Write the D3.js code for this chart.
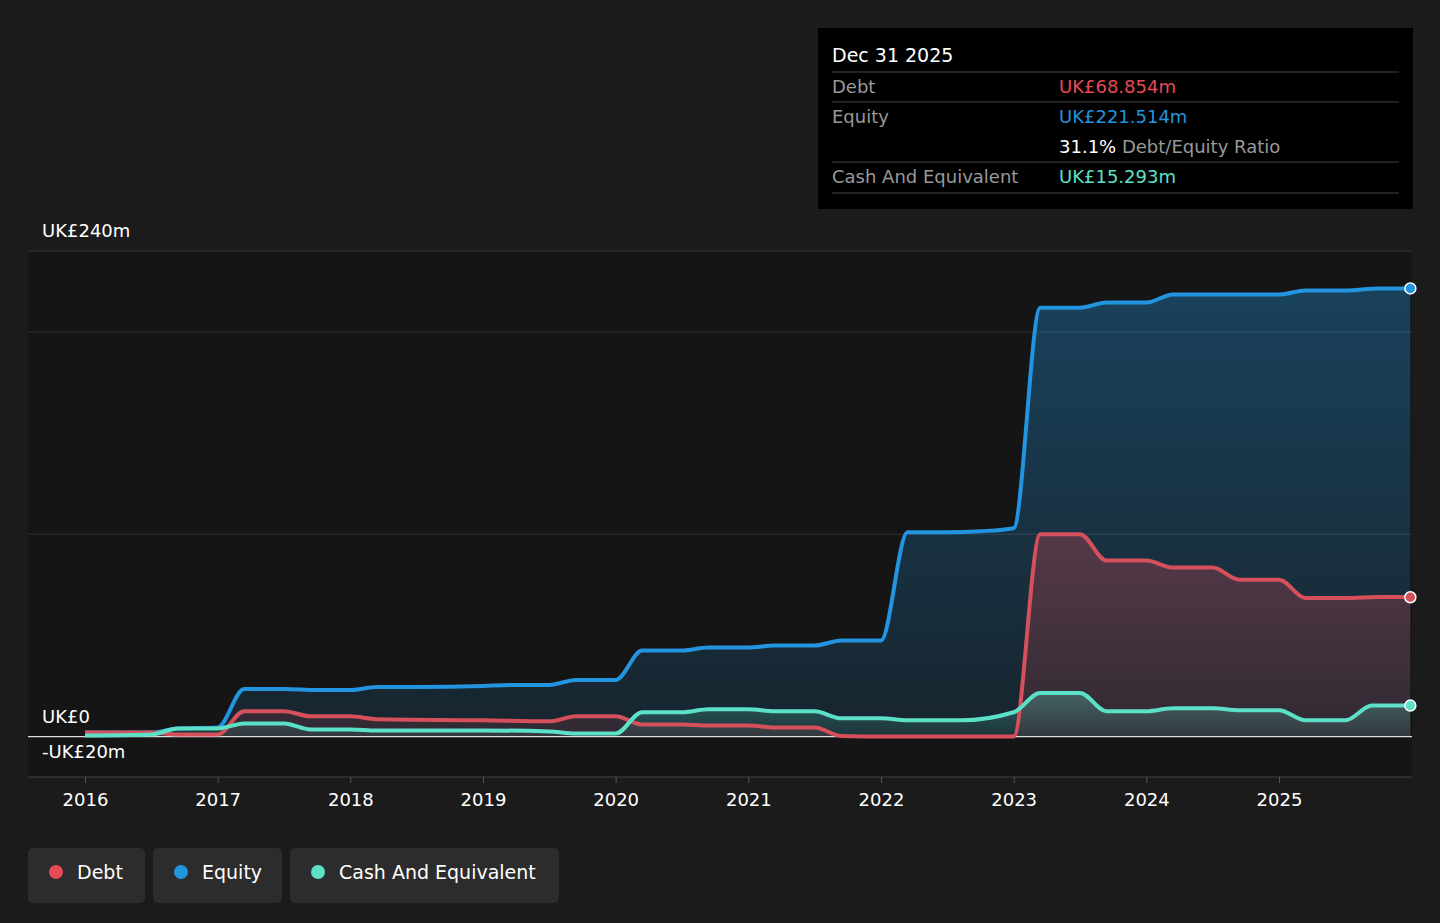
<!DOCTYPE html>
<html><head><meta charset="utf-8">
<script src="https://cdn.jsdelivr.net/npm/d3@7"></script>
<style>
body{margin:0;background:#1b1b1b;font-family:"DejaVu Sans",sans-serif;}
svg{display:block}
</style></head><body>
<svg id="chart" width="1440" height="923"></svg>
<script>
// values in UK£m, t in fractional years
const equityT = [2016,2016.5,2016.7,2017.0,2017.2,2017.5,2017.75,2018.0,2018.2,2018.5,2019.0,2019.2,2019.5,2019.7,2020.0,2020.2,2020.5,2020.7,2021.0,2021.2,2021.5,2021.7,2022.0,2022.2,2022.5,2022.75,2023.0,2023.2,2023.5,2023.7,2024.0,2024.2,2024.5,2025.0,2025.2,2025.5,2025.75,2025.99];
const equityV = [2,2,4,4.5,23.5,23.5,23,23,24.5,24.5,25,25.5,25.5,28,28,42.5,42.5,44,44,45,45,47.5,47.5,101,101,101.5,103,212,212,214.5,214.5,218.5,218.5,218.5,220.5,220.5,221.5,221.514];
const debtT = [2016,2016.5,2016.7,2017.0,2017.2,2017.5,2017.7,2018.0,2018.2,2019.0,2019.5,2019.7,2020.0,2020.2,2020.5,2020.7,2021.0,2021.2,2021.5,2021.7,2022.0,2023.0,2023.2,2023.5,2023.7,2024.0,2024.2,2024.5,2024.7,2025.0,2025.2,2025.5,2025.75,2025.99];
const debtV = [2,2,1,1,12.5,12.5,10,10,8.5,8,7.5,10,10,6,6,5.5,5.5,4.5,4.5,0.3,0,0,100,100,87,87,83.5,83.5,77.5,77.5,68.5,68.5,69,68.854];
const cashT = [2016,2016.5,2016.7,2017.0,2017.2,2017.5,2017.7,2018.0,2018.2,2019.0,2019.5,2019.7,2020.0,2020.2,2020.5,2020.7,2021.0,2021.2,2021.5,2021.7,2022.0,2022.2,2022.6,2023.0,2023.2,2023.5,2023.7,2024.0,2024.2,2024.5,2024.7,2025.0,2025.2,2025.5,2025.7,2025.99];
const cashV = [0.5,1,4,4,6.5,6.5,3.5,3.5,3,3,2.5,1.5,1.5,12,12,13.5,13.5,12.5,12.5,9,9,8,8,12,21.5,21.5,12.5,12.5,14,14,13,13,8,8,15.3,15.293];
const yearTicks = [2016,2017,2018,2019,2020,2021,2022,2023,2024,2025];

const svg = d3.select("#chart");
const x = d3.scaleLinear().domain([2016, 2025]).range([85, 1279]);
const y = d3.scaleLinear().domain([-20, 240]).range([777, 251]);

// plot background
svg.append("rect").attr("x", 28).attr("y", 251).attr("width", 1384).attr("height", 526).attr("fill", "#151515");

// grid
[240, 200, 100].forEach(v => svg.append("line").attr("x1", 28).attr("x2", 1412)
  .attr("y1", y(v)).attr("y2", y(v)).attr("stroke", "#333").attr("stroke-width", 1));
svg.append("line").attr("x1", 28).attr("x2", 1412).attr("y1", y(-20)).attr("y2", y(-20)).attr("stroke", "#444");

const defs = svg.append("defs");
function grad(id, color, o1, o2) {
  const g = defs.append("linearGradient").attr("id", id).attr("x1", 0).attr("y1", 0).attr("x2", 0).attr("y2", 1);
  g.append("stop").attr("offset", "0%").attr("stop-color", color).attr("stop-opacity", o1);
  g.append("stop").attr("offset", "100%").attr("stop-color", color).attr("stop-opacity", o2);
}
grad("gEq", "#2394df", 0.35, 0.12);
grad("gDebt", "#e64a55", 0.3, 0.12);
grad("gCash", "#5de0c8", 0.3, 0.08);

const series = [
  {t: equityT, v: equityV, color: "#2394df", fill: "url(#gEq)"},
  {t: debtT, v: debtV, color: "#d5505a", fill: "url(#gDebt)"},
  {t: cashT, v: cashV, color: "#5de0c8", fill: "url(#gCash)"},
];

series.forEach(s => {
  const pts = s.t.map((t, i) => [t, s.v[i]]);
  const area = d3.area().x(d => x(d[0])).y0(y(0)).y1(d => y(d[1])).curve(d3.curveMonotoneX);
  svg.append("path").attr("d", area(pts)).attr("fill", s.fill);
});
svg.append("line").attr("x1", 28).attr("x2", 1412).attr("y1", y(0)).attr("y2", y(0)).attr("stroke", "#ddd").attr("stroke-width", 1.2);
series.forEach(s => {
  const pts = s.t.map((t, i) => [t, s.v[i]]);
  const line = d3.line().x(d => x(d[0])).y(d => y(d[1])).curve(d3.curveMonotoneX);
  svg.append("path").attr("d", line(pts)).attr("fill", "none").attr("stroke", s.color).attr("stroke-width", 4);
  const last = pts[pts.length - 1];
  svg.append("circle").attr("cx", x(last[0])).attr("cy", y(last[1])).attr("r", 5.5)
    .attr("fill", s.color).attr("stroke", "#fff").attr("stroke-width", 1.5);
});

// y labels
[[240, "UK£240m"], [0, "UK£0"], [-20, "-UK£20m"]].forEach(([v, txt]) =>
  svg.append("text").attr("x", 42).attr("y", y(v) - 14 + (v === -20 ? -5 : 0)).attr("fill", "#fff")
    .attr("font-size", 18).text(txt));

// x axis
const xa = svg.append("g").attr("transform", "translate(0,777)")
  .call(d3.axisBottom(x).tickValues(yearTicks).tickFormat(d3.format("d")).tickSize(6));
xa.select(".domain").remove();
xa.selectAll("line").attr("stroke", "#555");
xa.selectAll("text").attr("fill", "#fff").attr("font-size", 18).attr("font-family", "DejaVu Sans").attr("dy", "1.1em");

// tooltip
const tip = svg.append("g");
tip.append("rect").attr("x", 818).attr("y", 28).attr("width", 595).attr("height", 181).attr("fill", "#000");
tip.append("text").attr("x", 832).attr("y", 62).attr("fill", "#fff").attr("font-size", 19).text("Dec 31 2025");
[72, 102, 162, 193].forEach(yy => tip.append("line").attr("x1", 832).attr("x2", 1399).attr("y1", yy).attr("y2", yy).attr("stroke", "#444"));
const rows = [
  [93, "Debt", "UK£68.854m", "#e64a55"],
  [123, "Equity", "UK£221.514m", "#2394df"],
  [183, "Cash And Equivalent", "UK£15.293m", "#5de0c8"],
];
rows.forEach(([yy, l, v, c]) => {
  tip.append("text").attr("x", 832).attr("y", yy).attr("fill", "#999").attr("font-size", 18).text(l);
  tip.append("text").attr("x", 1059).attr("y", yy).attr("fill", c).attr("font-size", 18).text(v);
});
const rt = tip.append("text").attr("x", 1059).attr("y", 153).attr("font-size", 18);
rt.append("tspan").attr("fill", "#fff").text("31.1%");
rt.append("tspan").attr("fill", "#999").text(" Debt/Equity Ratio");

// legend
const legend = [["Debt", "#e64a55", 28, 117], ["Equity", "#2394df", 153, 129], ["Cash And Equivalent", "#5de0c8", 290, 269]];
legend.forEach(([l, c, lx, w]) => {
  const g = svg.append("g");
  g.append("rect").attr("x", lx).attr("y", 848).attr("width", w).attr("height", 55).attr("rx", 5).attr("fill", "#2c2c2c");
  g.append("circle").attr("cx", lx + 28).attr("cy", 872).attr("r", 7).attr("fill", c);
  g.append("text").attr("x", lx + 49).attr("y", 879).attr("fill", "#fff").attr("font-size", 19).text(l);
});
</script>
</body></html>
